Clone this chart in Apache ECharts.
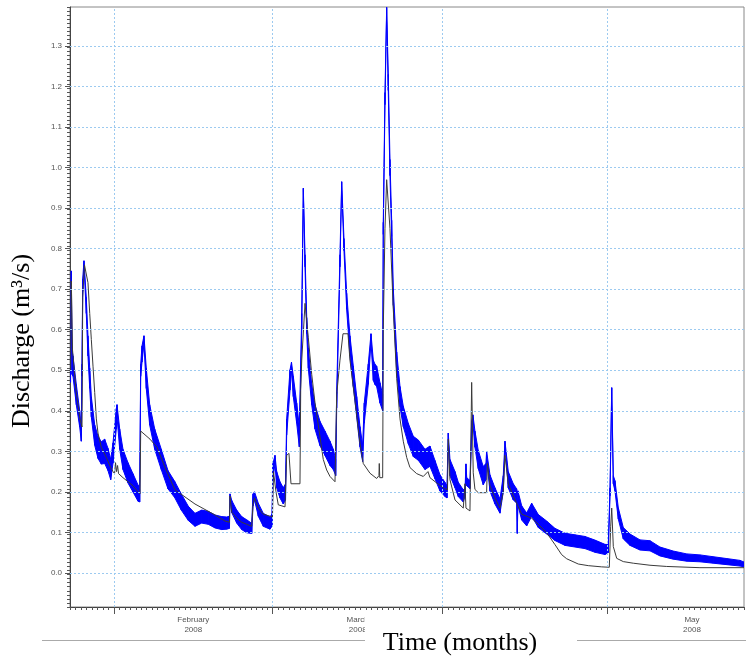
<!DOCTYPE html>
<html><head><meta charset="utf-8">
<script src="https://cdn.jsdelivr.net/npm/echarts@6/dist/echarts.min.js"></script>
<style>html,body{margin:0;padding:0;background:#fff}#c{width:746px;height:659px}</style>
</head><body><div id="c"></div>
<script>
// x values: day of year 2008 (Jan 1 = 0)
const monthStarts = [31, 60, 91, 121];
const monthLabelPos = [45.5, 75.5, 106, 136.5];
const monthLabels = ['February\n2008', 'March\n2008', 'April\n2008', 'May\n2008'];
const yTicks = [0.0, 0.1, 0.2, 0.3, 0.4, 0.5, 0.6, 0.7, 0.8, 0.9, 1.0, 1.1, 1.2, 1.3];

// observed discharge: [day, centre value, noise band width]
const observed = [
[23.10,0.50,0.06],[23.24,0.74,0.01],[23.36,0.52,0.06],[23.55,0.51,0.05],[24.15,0.44,0.05],
[24.77,0.38,0.04],[25.06,0.34,0.03],[25.19,0.50,0.03],[25.32,0.71,0.03],[25.55,0.765,0.01],
[25.97,0.66,0.04],[26.28,0.56,0.05],[26.60,0.48,0.05],[26.89,0.41,0.05],[27.51,0.34,0.05],
[28.11,0.31,0.055],[28.71,0.296,0.055],[29.33,0.30,0.06],[29.93,0.28,0.055],[30.43,0.255,0.05],
[30.85,0.296,0.05],[31.45,0.38,0.05],[31.58,0.40,0.03],[32.07,0.33,0.05],[32.67,0.28,0.05],
[33.58,0.247,0.05],[34.50,0.222,0.045],[35.41,0.197,0.04],[35.72,0.19,0.03],[35.90,0.50,0.03],
[36.14,0.54,0.04],[36.50,0.575,0.02],[36.92,0.48,0.05],[37.54,0.39,0.05],[38.46,0.33,0.05],
[39.66,0.28,0.05],[40.88,0.23,0.045],[42.10,0.206,0.04],[43.31,0.175,0.04],[44.59,0.147,0.035],
[45.81,0.131,0.032],[47.03,0.139,0.032],[48.24,0.136,0.032],[49.46,0.127,0.032],[50.68,0.123,0.032],
[51.60,0.123,0.03],[52.10,0.125,0.03],[52.20,0.19,0.01],[52.51,0.164,0.03],[53.42,0.139,0.032],
[54.33,0.123,0.032],[55.25,0.115,0.032],[56.16,0.11,0.025],[56.40,0.18,0.03],[56.67,0.19,0.02],
[57.36,0.156,0.032],[58.27,0.131,0.032],[59.50,0.123,0.03],[59.86,0.13,0.03],[60.04,0.25,0.04],
[60.41,0.28,0.02],[60.72,0.23,0.04],[61.32,0.205,0.04],[61.92,0.19,0.04],[62.33,0.20,0.04],
[62.54,0.36,0.04],[63.15,0.476,0.05],[63.42,0.51,0.02],[63.75,0.46,0.05],[64.37,0.394,0.05],
[64.85,0.336,0.05],[65.29,0.62,0.04],[65.58,0.944,0.01],[65.89,0.77,0.03],[66.20,0.61,0.04],
[66.49,0.53,0.05],[67.11,0.44,0.05],[67.71,0.385,0.06],[68.62,0.344,0.06],[69.53,0.32,0.06],
[70.45,0.295,0.06],[71.05,0.28,0.05],[71.49,0.26,0.04],[71.67,0.427,0.04],[72.27,0.77,0.03],
[72.58,0.96,0.01],[73.00,0.81,0.03],[73.49,0.67,0.04],[74.09,0.56,0.05],[74.70,0.485,0.05],
[75.32,0.41,0.05],[75.92,0.336,0.05],[76.41,0.295,0.04],[76.70,0.394,0.05],[77.43,0.49,0.05],
[77.93,0.58,0.02],[78.35,0.50,0.05],[78.65,0.49,0.05],[78.96,0.485,0.05],[79.57,0.444,0.05],
[80.06,0.42,0.04],[80.17,0.85,0.03],[80.48,1.17,0.03],[80.79,1.39,0.01],[81.08,1.21,0.04],
[81.39,1.00,0.04],[81.70,0.85,0.04],[82.00,0.68,0.04],[82.62,0.52,0.05],[83.22,0.435,0.05],
[83.82,0.386,0.05],[84.73,0.344,0.05],[85.65,0.312,0.05],[86.56,0.303,0.05],[87.78,0.28,0.05],
[88.69,0.288,0.05],[89.60,0.255,0.045],[90.52,0.222,0.04],[91.43,0.206,0.035],[91.80,0.20,0.03],
[92.03,0.34,0.01],[92.34,0.26,0.04],[93.26,0.23,0.04],[93.86,0.206,0.035],[94.77,0.19,0.03],
[95.10,0.20,0.02],[95.26,0.264,0.01],[95.40,0.225,0.02],[95.99,0.218,0.02],[96.30,0.36,0.03],
[96.53,0.38,0.02],[96.90,0.33,0.04],[97.50,0.28,0.045],[98.41,0.24,0.045],[98.90,0.25,0.04],
[99.03,0.29,0.02],[99.64,0.222,0.04],[100.55,0.19,0.04],[101.47,0.165,0.035],[102.07,0.22,0.04],
[102.38,0.32,0.01],[102.98,0.23,0.04],[103.89,0.20,0.04],[104.51,0.19,0.035],[104.62,0.10,0.005],
[104.74,0.185,0.035],[105.43,0.148,0.035],[106.34,0.132,0.032],[107.25,0.156,0.032],[108.46,0.128,0.032],
[109.99,0.112,0.032],[111.50,0.095,0.03],[113.33,0.083,0.03],[115.15,0.079,0.03],[116.98,0.075,0.03],
[118.80,0.066,0.03],[120.63,0.058,0.025],[121.23,0.06,0.02],[121.55,0.20,0.02],[121.86,0.452,0.01],
[122.15,0.23,0.02],[122.45,0.215,0.025],[123.06,0.147,0.028],[123.97,0.098,0.028],[125.19,0.082,0.028],
[127.02,0.069,0.025],[128.84,0.067,0.025],[130.66,0.053,0.022],[133.09,0.044,0.02],[135.54,0.038,0.018],
[137.96,0.036,0.017],[140.39,0.032,0.016],[142.84,0.028,0.015],[145.27,0.024,0.014],[146.00,0.021,0.012]
];

// simulated discharge: [day, value]
const simulated = [
[23.10,0.50],[23.24,0.72],[23.46,0.55],[24.09,0.45],[24.82,0.38],[25.19,0.36],[25.32,0.68],[25.64,0.76],
[25.97,0.757],[26.28,0.716],[26.60,0.64],[26.89,0.576],[27.20,0.51],[27.51,0.445],[27.81,0.38],[28.11,0.345],
[28.71,0.31],[29.62,0.285],[30.43,0.26],[30.85,0.25],[31.13,0.245],[31.31,0.272],[31.49,0.25],[31.68,0.265],
[31.86,0.245],[32.67,0.235],[33.58,0.225],[34.50,0.215],[35.41,0.20],[35.78,0.195],[35.90,0.35],[36.08,0.349],
[37.60,0.33],[38.88,0.31],[40.34,0.26],[42.16,0.205],[45.81,0.17],[49.46,0.143],[51.28,0.128],[52.10,0.125],
[52.20,0.19],[52.51,0.15],[53.42,0.135],[54.33,0.125],[55.25,0.12],[56.16,0.115],[56.40,0.17],[56.67,0.185],
[57.36,0.16],[58.27,0.145],[59.50,0.14],[59.95,0.138],[60.13,0.25],[60.59,0.20],[61.01,0.168],[62.24,0.163],
[62.54,0.29],[62.96,0.295],[63.24,0.295],[63.33,0.22],[64.97,0.22],[65.10,0.45],[65.29,0.525],[65.89,0.665],
[66.49,0.58],[67.11,0.49],[67.71,0.42],[68.62,0.336],[69.22,0.28],[69.84,0.254],[70.45,0.238],[71.36,0.225],
[71.67,0.44],[72.27,0.525],[72.82,0.59],[73.73,0.59],[74.09,0.525],[75.00,0.425],[75.92,0.32],[76.52,0.27],
[77.74,0.246],[78.96,0.233],[79.38,0.24],[79.44,0.27],[79.53,0.235],[80.06,0.235],[80.17,0.60],[80.48,0.85],
[80.79,0.97],[81.39,0.85],[82.00,0.65],[82.62,0.48],[83.22,0.38],[83.82,0.325],[84.44,0.285],[85.04,0.26],
[86.26,0.245],[87.47,0.238],[88.33,0.25],[88.69,0.235],[89.91,0.222],[91.12,0.21],[91.89,0.205],[92.03,0.33],
[92.34,0.23],[93.26,0.18],[94.77,0.16],[95.08,0.22],[95.26,0.16],[95.57,0.157],[95.99,0.153],[96.30,0.47],
[96.59,0.247],[96.90,0.206],[97.50,0.198],[99.03,0.198],[99.17,0.27],[99.64,0.215],[100.55,0.185],[101.47,0.16],
[102.07,0.20],[102.38,0.29],[102.98,0.22],[103.89,0.19],[105.43,0.145],[107.25,0.135],[108.46,0.12],[109.99,0.099],
[111.50,0.07],[112.73,0.045],[113.64,0.035],[115.76,0.022],[117.58,0.018],[120.03,0.015],[121.42,0.014],[121.67,0.114],
[121.86,0.16],[122.15,0.065],[122.77,0.036],[123.97,0.028],[125.80,0.024],[128.84,0.019],[131.89,0.016],[137.96,0.013],
[146.00,0.013]
];

// band segments between consecutive observed points: [x0, lo0, hi0, x1, lo1, hi1]
const bandSegments = [];
for (let i = 0; i < observed.length - 1; i++) {
  const a = observed[i], b = observed[i + 1];
  bandSegments.push([a[0], a[1] - a[2] / 2, a[1] + a[2] / 2, b[0], b[1] - b[2] / 2, b[1] + b[2] / 2]);
}

const chart = echarts.init(document.getElementById('c'), null, {renderer: 'canvas'});
const smallFont = {fontSize: 8, color: '#555', fontFamily: '"Liberation Sans", Arial, sans-serif'};
const gridLineStyle = {color: '#9ccaf0', type: [2, 2], width: 1};

chart.setOption({
  animation: false,
  backgroundColor: '#fff',
  grid: {left: 70, right: 2, top: 7, bottom: 52, show: true, borderColor: '#888', borderWidth: 1, backgroundColor: 'transparent'},
  xAxis: [
    {type: 'value', position: 'bottom', min: 23, max: 146, interval: 1,
     axisLine: {show: true, onZero: false, lineStyle: {color: '#444', width: 1}},
     axisTick: {show: true, length: 3, lineStyle: {color: '#555'}},
     axisLabel: {show: false}, splitLine: {show: false}},
    {type: 'value', position: 'bottom', min: 23, max: 146,
     axisLine: {show: false, onZero: false},
     axisTick: {show: true, length: 7, customValues: monthStarts, lineStyle: {color: '#555'}},
     axisLabel: Object.assign({show: true, customValues: monthLabelPos, margin: 8, lineHeight: 10,
       formatter: v => { let i = 0, d = 1e9; monthLabelPos.forEach((p, k) => { if (Math.abs(p - v) < d) { d = Math.abs(p - v); i = k; } }); return monthLabels[i]; }
     }, smallFont),
     splitLine: {show: false}}
  ],
  yAxis: [
    {type: 'value', position: 'left', min: -0.084, max: 1.396,
     axisLine: {show: true, onZero: false, lineStyle: {color: '#444', width: 1}},
     axisTick: {show: true, length: 5, customValues: yTicks, lineStyle: {color: '#555'}},
     axisLabel: Object.assign({show: true, customValues: yTicks, margin: 8, formatter: v => v.toFixed(1)}, smallFont),
     splitLine: {show: false}},
    {type: 'value', position: 'left', min: -0.08, max: 1.4, interval: 0.01,
     axisLine: {show: false, onZero: false},
     axisTick: {show: true, length: 3, lineStyle: {color: '#555'}},
     axisLabel: {show: false}, splitLine: {show: false}}
  ],
  series: [
    {name: 'grid', type: 'line', data: [], xAxisIndex: 0, yAxisIndex: 0, z: 1, silent: true,
     markLine: {silent: true, symbol: ['none', 'none'], label: {show: false}, lineStyle: gridLineStyle, animation: false,
       data: monthStarts.map(v => ({xAxis: v})).concat(yTicks.map(v => ({yAxis: v})))}},
    {name: 'observed', type: 'custom', data: bandSegments, xAxisIndex: 0, yAxisIndex: 0, z: 2, silent: true, clip: true,
     renderItem: function (params, api) {
       const p0l = api.coord([api.value(0), api.value(1)]);
       const p0h = api.coord([api.value(0), api.value(2)]);
       const p1l = api.coord([api.value(3), api.value(4)]);
       const p1h = api.coord([api.value(3), api.value(5)]);
       return {type: 'polygon', shape: {points: [p0l, p1l, p1h, p0h]},
               style: {fill: '#0000ff', stroke: '#0000ff', lineWidth: 1}};
     },
     encode: {x: [0, 3], y: [1, 2, 4, 5]}},
    {name: 'simulated', type: 'line', data: simulated, symbol: 'none', z: 3,
     lineStyle: {color: '#3a3a3a', width: 1}, silent: true}
  ],
  graphic: [
    {type: 'line', shape: {x1: 42, y1: 640.5, x2: 365, y2: 640.5}, style: {stroke: '#aaa', lineWidth: 1}, z: 10},
    {type: 'line', shape: {x1: 577, y1: 640.5, x2: 746, y2: 640.5}, style: {stroke: '#aaa', lineWidth: 1}, z: 10},
    {type: 'rect', shape: {x: 365, y: 617, width: 212, height: 42}, style: {fill: '#fff'}, z: 20},
    {type: 'text', x: 460, y: 643, z: 21,
     style: {text: 'Time (months)', font: '26px "Liberation Serif", "Times New Roman", serif', fill: '#000', align: 'center', verticalAlign: 'middle'}},
    {type: 'text', x: 22, y: 341, rotation: Math.PI / 2, z: 21,
     style: {text: 'Discharge (m³/s)', font: '26px "Liberation Serif", "Times New Roman", serif', fill: '#000', align: 'center', verticalAlign: 'middle'}}
  ]
});
</script></body></html>
